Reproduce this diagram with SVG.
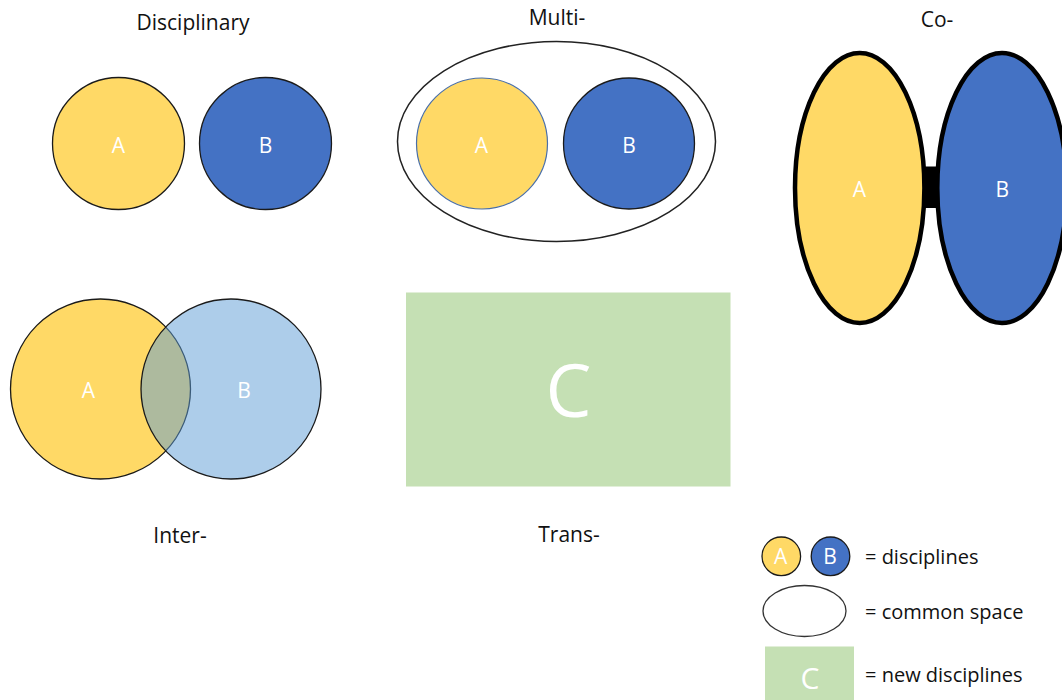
<svg xmlns="http://www.w3.org/2000/svg" width="1062" height="700" viewBox="0 0 1062 700">
  <style>
    .title { font-family: "Open Sans", "Liberation Sans", sans-serif; font-size: 21px; fill: #111; text-anchor: middle; }
    .lbl { font-family: "Open Sans", "Liberation Sans", sans-serif; font-size: 21px; fill: #fff; text-anchor: middle; }
    .leg { font-family: "Open Sans", "Liberation Sans", sans-serif; font-size: 20px; fill: #111; }
    .gold { fill: #FFD966; }
    .blue { fill: #4472C4; }
    .thin { stroke: #1a1a1a; stroke-width: 1.3; }
    .green { fill: #C5E0B4; }
  </style>
  <rect width="1062" height="700" fill="#fff"/>

  <!-- Disciplinary -->
  <g id="disciplinary">
    <text class="title" x="193" y="30">Disciplinary</text>
    <circle class="gold thin" cx="118.5" cy="143.5" r="66"/>
    <text class="lbl" x="118.5" y="153">A</text>
    <circle class="blue thin" cx="265.5" cy="143.5" r="66"/>
    <text class="lbl" x="265.5" y="153">B</text>
  </g>

  <!-- Multi- -->
  <g id="multi">
    <text class="title" x="557" y="25">Multi-</text>
    <ellipse cx="556.5" cy="141.5" rx="159" ry="100" fill="#fff" stroke="#222" stroke-width="1.5"/>
    <circle class="gold" cx="482" cy="143.5" r="65.5" stroke="#4a6fa8" stroke-width="1.2"/>
    <text class="lbl" x="481.5" y="152.5">A</text>
    <circle class="blue thin" cx="629" cy="143.5" r="65.5"/>
    <text class="lbl" x="629" y="152.5">B</text>
  </g>

  <!-- Co- -->
  <g id="co">
    <text class="title" x="937" y="26.5">Co-</text>
    <rect x="924" y="166.5" width="14" height="41.5" fill="#000"/>
    <ellipse class="gold" cx="859.7" cy="188" rx="64.7" ry="135" stroke="#000" stroke-width="4.5"/>
    <text class="lbl" x="859.5" y="197">A</text>
    <ellipse class="blue" cx="1002" cy="188" rx="64.7" ry="135" stroke="#000" stroke-width="4.5"/>
    <text class="lbl" x="1002.3" y="197">B</text>
  </g>

  <!-- Inter- -->
  <g id="inter">
    <circle class="gold thin" cx="100.5" cy="389" r="90"/>
    <circle cx="231" cy="389" r="90" fill="#5B9BD5" fill-opacity="0.5" stroke="#1a1a1a" stroke-width="1.3"/>
    <text class="lbl" x="88.5" y="397.5">A</text>
    <text class="lbl" x="244" y="397.5">B</text>
    <text class="title" x="180" y="543">Inter-</text>
  </g>

  <!-- Trans- -->
  <g id="trans">
    <rect class="green" x="406" y="292.5" width="324.5" height="194"/>
    <text x="568.5" y="416.5" font-family="Open Sans, Liberation Sans, sans-serif" font-size="73" fill="#fff" text-anchor="middle">C</text>
    <text class="title" x="569" y="542">Trans-</text>
  </g>

  <!-- Legend -->
  <g id="legend">
    <circle class="gold thin" cx="781.3" cy="556.3" r="19.3"/>
    <text class="lbl" x="780.7" y="564">A</text>
    <circle class="blue thin" cx="830.5" cy="556.3" r="19.3"/>
    <text class="lbl" x="830" y="564">B</text>
    <text class="leg" x="865" y="564">= disciplines</text>

    <ellipse cx="804.5" cy="611" rx="41.5" ry="25.5" fill="#fff" stroke="#333" stroke-width="1.3"/>
    <text class="leg" x="865" y="619">= common space</text>

    <rect class="green" x="765" y="646.5" width="89" height="60"/>
    <text x="810" y="688.5" font-family="Open Sans, Liberation Sans, sans-serif" font-size="30" fill="#fff" text-anchor="middle">C</text>
    <text class="leg" x="865" y="681.5">= new disciplines</text>
  </g>
</svg>
